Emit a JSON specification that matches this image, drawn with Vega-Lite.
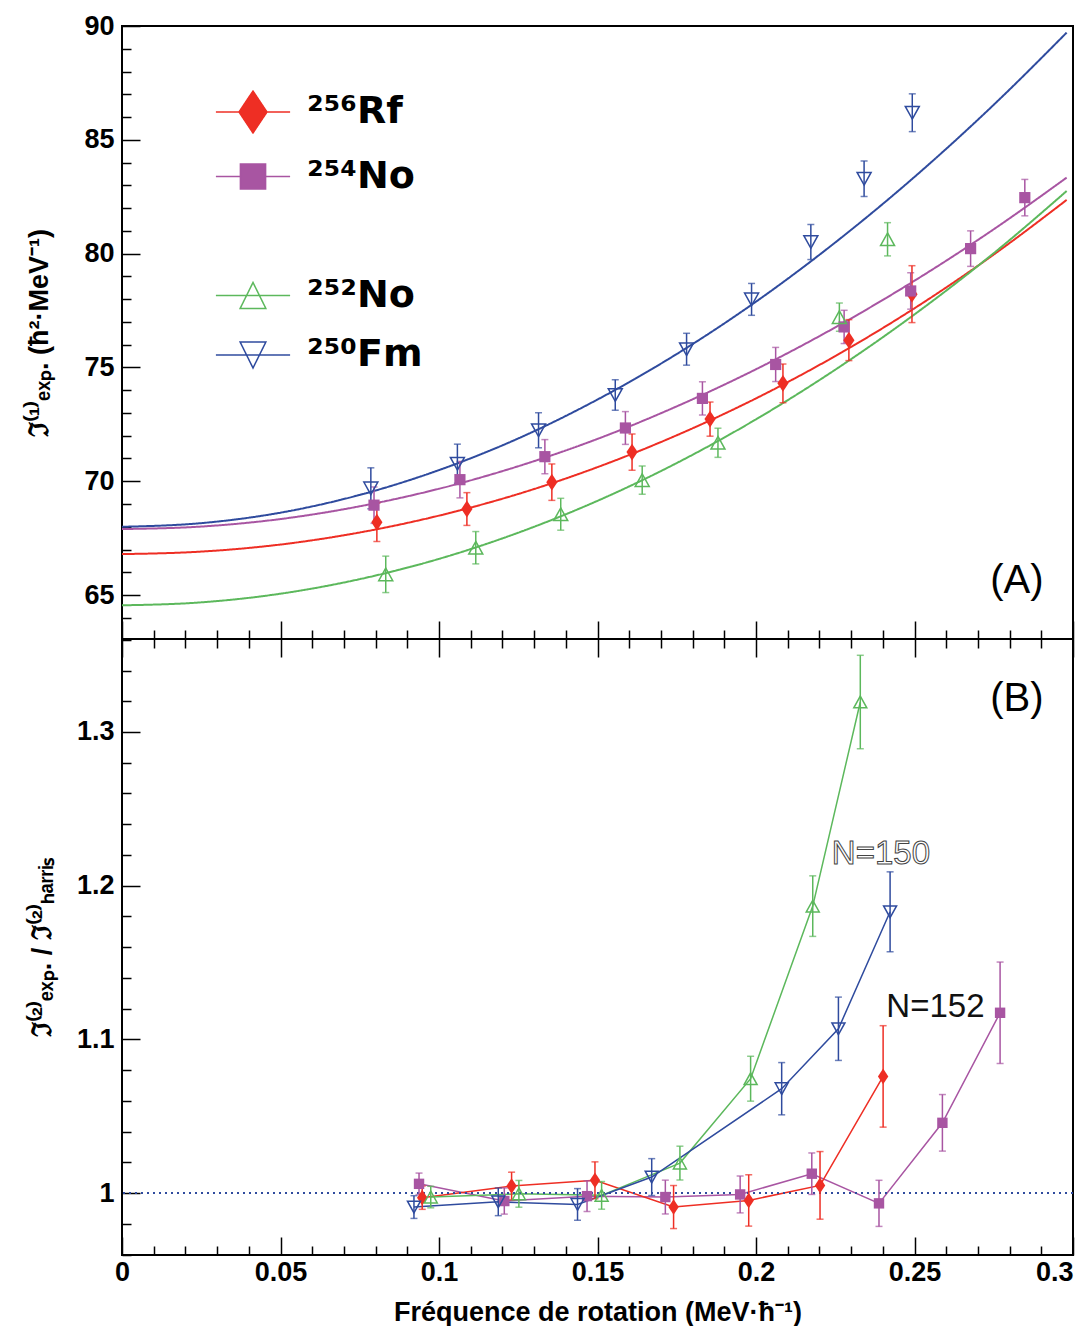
{
  "$schema": "https://vega.github.io/schema/vega-lite/v6.json",
  "background": "white",
  "padding": {"left": 24, "top": 11, "right": 10, "bottom": 0},
  "spacing": 0,
  "bounds": "flush",
  "config": {
    "font": "Liberation Sans",
    "view": {"stroke": "black", "strokeWidth": 2},
    "axis": {"grid": false, "domain": false, "tickColor": "black", "tickWidth": 1.5, "tickCount": 100, "labelFont": "Liberation Sans", "labelFontWeight": "bold", "labelFontSize": 27, "labelColor": "black", "labelOverlap": false, "labelBound": false, "labelFlush": false, "titleFont": "Liberation Sans", "titleFontWeight": "bold", "titleColor": "black"}
  },
  "resolve": {"scale": {"color": "independent", "shape": "independent", "strokeDash": "independent"}, "legend": {"shape": "independent", "color": "independent", "strokeDash": "independent"}},
  "datasets": {
    "curves": [
      {"nuc": "Rf256", "x": 0, "y": 66.80}, {"nuc": "Rf256", "x": 0.025, "y": 66.91}, {"nuc": "Rf256", "x": 0.05, "y": 67.22}, {"nuc": "Rf256", "x": 0.075, "y": 67.75}, {"nuc": "Rf256", "x": 0.1, "y": 68.49}, {"nuc": "Rf256", "x": 0.125, "y": 69.44}, {"nuc": "Rf256", "x": 0.15, "y": 70.62}, {"nuc": "Rf256", "x": 0.175, "y": 72.02}, {"nuc": "Rf256", "x": 0.2, "y": 73.64}, {"nuc": "Rf256", "x": 0.225, "y": 75.50}, {"nuc": "Rf256", "x": 0.25, "y": 77.60}, {"nuc": "Rf256", "x": 0.275, "y": 79.96}, {"nuc": "Rf256", "x": 0.298, "y": 82.36},
      {"nuc": "No254", "x": 0, "y": 67.90}, {"nuc": "No254", "x": 0.025, "y": 68.01}, {"nuc": "No254", "x": 0.05, "y": 68.34}, {"nuc": "No254", "x": 0.075, "y": 68.90}, {"nuc": "No254", "x": 0.1, "y": 69.67}, {"nuc": "No254", "x": 0.125, "y": 70.66}, {"nuc": "No254", "x": 0.15, "y": 71.86}, {"nuc": "No254", "x": 0.175, "y": 73.29}, {"nuc": "No254", "x": 0.2, "y": 74.92}, {"nuc": "No254", "x": 0.225, "y": 76.76}, {"nuc": "No254", "x": 0.25, "y": 78.81}, {"nuc": "No254", "x": 0.275, "y": 81.07}, {"nuc": "No254", "x": 0.298, "y": 83.34},
      {"nuc": "No252", "x": 0, "y": 64.55}, {"nuc": "No252", "x": 0.025, "y": 64.68}, {"nuc": "No252", "x": 0.05, "y": 65.06}, {"nuc": "No252", "x": 0.075, "y": 65.70}, {"nuc": "No252", "x": 0.1, "y": 66.59}, {"nuc": "No252", "x": 0.125, "y": 67.74}, {"nuc": "No252", "x": 0.15, "y": 69.14}, {"nuc": "No252", "x": 0.175, "y": 70.80}, {"nuc": "No252", "x": 0.2, "y": 72.72}, {"nuc": "No252", "x": 0.225, "y": 74.90}, {"nuc": "No252", "x": 0.25, "y": 77.33}, {"nuc": "No252", "x": 0.275, "y": 80.02}, {"nuc": "No252", "x": 0.298, "y": 82.75},
      {"nuc": "Fm250", "x": 0, "y": 68.00}, {"nuc": "Fm250", "x": 0.025, "y": 68.16}, {"nuc": "Fm250", "x": 0.05, "y": 68.62}, {"nuc": "Fm250", "x": 0.075, "y": 69.40}, {"nuc": "Fm250", "x": 0.1, "y": 70.49}, {"nuc": "Fm250", "x": 0.125, "y": 71.88}, {"nuc": "Fm250", "x": 0.15, "y": 73.59}, {"nuc": "Fm250", "x": 0.175, "y": 75.59}, {"nuc": "Fm250", "x": 0.2, "y": 77.89}, {"nuc": "Fm250", "x": 0.225, "y": 80.49}, {"nuc": "Fm250", "x": 0.25, "y": 83.37}, {"nuc": "Fm250", "x": 0.275, "y": 86.54}, {"nuc": "Fm250", "x": 0.298, "y": 89.71}
    ],
    "top": [
      {"nuc": "Rf256", "x": 0.0804, "y": 68.20, "err": 0.85}, {"nuc": "Rf256", "x": 0.1088, "y": 68.78, "err": 0.72}, {"nuc": "Rf256", "x": 0.1356, "y": 69.96, "err": 0.80}, {"nuc": "Rf256", "x": 0.1609, "y": 71.28, "err": 0.80}, {"nuc": "Rf256", "x": 0.1855, "y": 72.73, "err": 0.75}, {"nuc": "Rf256", "x": 0.2085, "y": 74.30, "err": 0.85}, {"nuc": "Rf256", "x": 0.2293, "y": 76.20, "err": 0.90}, {"nuc": "Rf256", "x": 0.2492, "y": 78.22, "err": 1.25},
      {"nuc": "No254", "x": 0.0795, "y": 68.95, "err": 0.80}, {"nuc": "No254", "x": 0.1066, "y": 70.07, "err": 0.80}, {"nuc": "No254", "x": 0.1334, "y": 71.08, "err": 0.75}, {"nuc": "No254", "x": 0.1588, "y": 72.34, "err": 0.72}, {"nuc": "No254", "x": 0.1831, "y": 73.64, "err": 0.73}, {"nuc": "No254", "x": 0.2062, "y": 75.13, "err": 0.75}, {"nuc": "No254", "x": 0.2278, "y": 76.78, "err": 0.73}, {"nuc": "No254", "x": 0.2488, "y": 78.36, "err": 0.80}, {"nuc": "No254", "x": 0.2677, "y": 80.22, "err": 0.78}, {"nuc": "No254", "x": 0.2848, "y": 82.46, "err": 0.80},
      {"nuc": "No252", "x": 0.0832, "y": 65.91, "err": 0.80}, {"nuc": "No252", "x": 0.1116, "y": 67.08, "err": 0.71}, {"nuc": "No252", "x": 0.1384, "y": 68.55, "err": 0.70}, {"nuc": "No252", "x": 0.1641, "y": 70.05, "err": 0.62}, {"nuc": "No252", "x": 0.1880, "y": 71.69, "err": 0.64}, {"nuc": "No252", "x": 0.2263, "y": 77.21, "err": 0.62}, {"nuc": "No252", "x": 0.2415, "y": 80.63, "err": 0.73},
      {"nuc": "Fm250", "x": 0.0785, "y": 69.69, "err": 0.90}, {"nuc": "Fm250", "x": 0.1058, "y": 70.77, "err": 0.86}, {"nuc": "Fm250", "x": 0.1314, "y": 72.24, "err": 0.77}, {"nuc": "Fm250", "x": 0.1556, "y": 73.79, "err": 0.67}, {"nuc": "Fm250", "x": 0.1781, "y": 75.80, "err": 0.70}, {"nuc": "Fm250", "x": 0.1986, "y": 77.99, "err": 0.70}, {"nuc": "Fm250", "x": 0.2173, "y": 80.51, "err": 0.77}, {"nuc": "Fm250", "x": 0.2341, "y": 83.29, "err": 0.78}, {"nuc": "Fm250", "x": 0.2493, "y": 86.19, "err": 0.83}
    ],
    "bot": [
      {"nuc": "No254", "x": 0.0937, "y": 1.0060, "err": 0.0070}, {"nuc": "No254", "x": 0.1206, "y": 0.9948, "err": 0.0085}, {"nuc": "No254", "x": 0.1467, "y": 0.9980, "err": 0.0100}, {"nuc": "No254", "x": 0.1714, "y": 0.9974, "err": 0.0110}, {"nuc": "No254", "x": 0.1950, "y": 0.9991, "err": 0.0120}, {"nuc": "No254", "x": 0.2176, "y": 1.0126, "err": 0.0135}, {"nuc": "No254", "x": 0.2388, "y": 0.9933, "err": 0.0150}, {"nuc": "No254", "x": 0.2588, "y": 1.0457, "err": 0.0184}, {"nuc": "No254", "x": 0.2770, "y": 1.1173, "err": 0.0330},
      {"nuc": "Rf256", "x": 0.0947, "y": 0.9970, "err": 0.0076}, {"nuc": "Rf256", "x": 0.1229, "y": 1.0046, "err": 0.0090}, {"nuc": "Rf256", "x": 0.1492, "y": 1.0083, "err": 0.0120}, {"nuc": "Rf256", "x": 0.1740, "y": 0.9909, "err": 0.0140}, {"nuc": "Rf256", "x": 0.1977, "y": 0.9952, "err": 0.0167}, {"nuc": "Rf256", "x": 0.2202, "y": 1.0050, "err": 0.0220}, {"nuc": "Rf256", "x": 0.2401, "y": 1.0759, "err": 0.0330},
      {"nuc": "No252", "x": 0.0974, "y": 0.9974, "err": 0.0070}, {"nuc": "No252", "x": 0.1252, "y": 0.9995, "err": 0.0087}, {"nuc": "No252", "x": 0.1513, "y": 0.9985, "err": 0.0090}, {"nuc": "No252", "x": 0.1760, "y": 1.0195, "err": 0.0110}, {"nuc": "No252", "x": 0.1983, "y": 1.0744, "err": 0.0146}, {"nuc": "No252", "x": 0.2179, "y": 1.1867, "err": 0.0197}, {"nuc": "No252", "x": 0.2329, "y": 1.3195, "err": 0.0304},
      {"nuc": "Fm250", "x": 0.0921, "y": 0.9909, "err": 0.0074}, {"nuc": "Fm250", "x": 0.1187, "y": 0.9943, "err": 0.0090}, {"nuc": "Fm250", "x": 0.1437, "y": 0.9926, "err": 0.0103}, {"nuc": "Fm250", "x": 0.1671, "y": 1.0104, "err": 0.0120}, {"nuc": "Fm250", "x": 0.2081, "y": 1.0679, "err": 0.0170}, {"nuc": "Fm250", "x": 0.2260, "y": 1.1069, "err": 0.0206}, {"nuc": "Fm250", "x": 0.2423, "y": 1.1830, "err": 0.0260}
    ]
  },
  "vconcat": [
    {
      "width": 951,
      "height": 613,
      "layer": [
        {
          "data": {"name": "curves"},
          "mark": {"type": "line", "interpolate": "monotone", "strokeWidth": 2},
          "encoding": {
            "x": {"field": "x", "type": "quantitative", "scale": {"domain": [0, 0.3], "nice": false, "zero": false},
              "axis": {"orient": "bottom", "tickCount": 100, "values": [0,0.01,0.02,0.03,0.04,0.05,0.06,0.07,0.08,0.09,0.1,0.11,0.12,0.13,0.14,0.15,0.16,0.17,0.18,0.19,0.2,0.21,0.22,0.23,0.24,0.25,0.26,0.27,0.28,0.29,0.3],
                "tickSize": {"condition": {"test": "abs(datum.value*20-round(datum.value*20))<0.001", "value": -18}, "value": -9},
                "labels": false, "title": null}},
            "y": {"field": "y", "type": "quantitative", "title": "ℑ⁽¹⁾ₑₓₚ. (ħ²·MeV⁻¹)", "scale": {"domain": [63.07, 90], "nice": false, "zero": false},
              "axis": {"orient": "left", "tickCount": 100, "values": [64,65,66,67,68,69,70,71,72,73,74,75,76,77,78,79,80,81,82,83,84,85,86,87,88,89,90],
                "tickSize": {"condition": {"test": "datum.value % 5 === 0", "value": -18}, "value": -9},
                "labelExpr": "datum.value % 5 === 0 ? toString(datum.value) : ''",
                "labelOverlap": false,
                "labelPadding": 26,
                "titleFontSize": 27, "titlePadding": 30}},
            "color": {"field": "nuc", "type": "nominal", "scale": {"domain": ["Fm250", "No252", "gap", "No254", "Rf256"], "range": ["#2f4b9e", "#5cb85c", "#ffffff", "#a855a2", "#ee2e24"]}, "legend": null},
            "strokeDash": {"field": "nuc", "type": "nominal",
              "scale": {"domain": ["Rf256", "No254", "gap", "No252", "Fm250"], "range": [[1, 0], [1, 0], [1, 0], [1, 0], [1, 0]]},
              "legend": {
                "orient": "none", "legendX": 112, "legendY": 67, "title": null, "padding": 0,
                "symbolSize": 784, "symbolStrokeWidth": 1.5,
                "labelFont": "DejaVu Sans", "labelFontSize": 38, "labelFontWeight": "bold", "labelColor": "black",
                "labelOffset": 35, "rowPadding": 21.5, "labelLimit": 400,
                "labelExpr": "datum.value==='Rf256'?'²⁵⁶Rf':datum.value==='No254'?'²⁵⁴No':datum.value==='No252'?'²⁵²No':datum.value==='Fm250'?'²⁵⁰Fm':''",
                "encode": {"symbols": {"update": {
                  "shape": {"signal": "datum.value==='Rf256'?'M-2.65,0H-0.95M0.95,0H2.65M0,-1.5L1,0L0,1.5L-1,0Z':datum.value==='No254'?'M-2.65,0H-0.9M0.9,0H2.65M-0.9,-0.9H0.9V0.9H-0.9Z':datum.value==='No252'?'M-2.65,0H2.65M0,-0.93L0.92,0.93H-0.92Z':datum.value==='Fm250'?'M-2.65,0H2.65M0,0.93L0.92,-0.93H-0.92Z':'M0,0'"},
                  "fill": {"signal": "datum.value==='Rf256'?'#ee2e24':datum.value==='No254'?'#a855a2':'transparent'"},
                  "stroke": {"signal": "datum.value==='Rf256'?'#ee2e24':datum.value==='No254'?'#a855a2':datum.value==='No252'?'#5cb85c':datum.value==='Fm250'?'#2f4b9e':'transparent'"},
                  "strokeWidth": {"value": 1.5},
                  "opacity": {"value": 1}
                }}}
              }}
          }
        },
        {
          "data": {"name": "top"},
          "mark": {"type": "errorbar", "ticks": true, "size": 7, "thickness": 1.5},
          "encoding": {
            "x": {"field": "x", "type": "quantitative", "title": null},
            "y": {"field": "y", "type": "quantitative", "title": "ℑ⁽¹⁾ₑₓₚ. (ħ²·MeV⁻¹)"},
            "yError": {"field": "err"},
            "color": {"field": "nuc", "type": "nominal", "legend": null}
          }
        },
        {
          "data": {"name": "top"},
          "transform": [{"filter": {"field": "nuc", "oneOf": ["Rf256", "No254"]}}],
          "mark": {"type": "point", "filled": true, "opacity": 1, "size": 196},
          "encoding": {
            "x": {"field": "x", "type": "quantitative", "title": null},
            "y": {"field": "y", "type": "quantitative", "title": "ℑ⁽¹⁾ₑₓₚ. (ħ²·MeV⁻¹)"},
            "color": {"field": "nuc", "type": "nominal", "legend": null},
            "shape": {"field": "nuc", "type": "nominal",
              "scale": {"domain": ["No254", "Rf256", "gap", "Fm250", "No252"], "range": ["M-0.8,-0.8H0.8V0.8H-0.8Z", "M0,-1.2L0.8,0L0,1.2L-0.8,0Z", "M0,0", "M0,0.9L1,-0.9H-1Z", "M0,-0.9L1,0.9H-1Z"]},
              "legend": null}
          }
        },
        {
          "data": {"name": "top"},
          "transform": [{"filter": {"field": "nuc", "oneOf": ["No252", "Fm250"]}}],
          "mark": {"type": "point", "filled": false, "opacity": 1, "size": 196, "strokeWidth": 1.5},
          "encoding": {
            "x": {"field": "x", "type": "quantitative", "title": null},
            "y": {"field": "y", "type": "quantitative", "title": "ℑ⁽¹⁾ₑₓₚ. (ħ²·MeV⁻¹)"},
            "color": {"field": "nuc", "type": "nominal", "legend": null},
            "shape": {"field": "nuc", "type": "nominal", "legend": null}
          }
        },
        {
          "data": {"values": [{}]},
          "mark": {"type": "text", "font": "Liberation Sans", "fontSize": 40, "align": "center", "baseline": "middle", "color": "black"},
          "encoding": {
            "x": {"datum": 0.2823, "type": "quantitative"},
            "y": {"datum": 65.6, "type": "quantitative"},
            "text": {"value": "(A)"}
          }
        }
      ]
    },
    {
      "width": 951,
      "height": 616,
      "resolve": {"axis": {"x": "independent"}},
      "layer": [
        {
          "data": {"name": "bot"},
          "mark": {"type": "line", "strokeWidth": 1.5},
          "encoding": {
            "x": {"field": "x", "type": "quantitative", "scale": {"domain": [0, 0.3], "nice": false, "zero": false},
              "axis": {"orient": "bottom", "tickCount": 100, "values": [0,0.01,0.02,0.03,0.04,0.05,0.06,0.07,0.08,0.09,0.1,0.11,0.12,0.13,0.14,0.15,0.16,0.17,0.18,0.19,0.2,0.21,0.22,0.23,0.24,0.25,0.26,0.27,0.28,0.29,0.3],
                "tickSize": {"condition": {"test": "abs(datum.value*20-round(datum.value*20))<0.001", "value": -18}, "value": -9},
                "labelExpr": "abs(datum.value*20-round(datum.value*20))<0.001 ? toString(datum.value) : ''",
                "labelAlign": {"condition": {"test": "datum.value > 0.29", "value": "right"}, "value": "center"},
                "labelPadding": 22,
                "title": "Fréquence de rotation (MeV·ħ⁻¹)", "titleFontSize": 27, "titlePadding": 5}},
            "y": {"field": "y", "type": "quantitative", "title": "ℑ⁽²⁾ₑₓₚ. / ℑ⁽²⁾ₕₐᵣᵣᵢₛ", "scale": {"domain": [0.9597, 1.3605], "nice": false, "zero": false},
              "axis": {"orient": "left", "tickCount": 100, "values": [0.96,0.98,1,1.02,1.04,1.06,1.08,1.1,1.12,1.14,1.16,1.18,1.2,1.22,1.24,1.26,1.28,1.3,1.32,1.34,1.36],
                "tickSize": {"condition": {"test": "abs(datum.value*10-round(datum.value*10))<0.001", "value": -18}, "value": -9},
                "labelExpr": "abs(datum.value*10-round(datum.value*10))<0.001 ? toString(datum.value) : ''",
                "labelOverlap": false,
                "labelPadding": 26,
                "titleFontSize": 27, "titlePadding": 20}},
            "color": {"field": "nuc", "type": "nominal", "scale": {"domain": ["Fm250", "No252", "gap", "No254", "Rf256"], "range": ["#2f4b9e", "#5cb85c", "#ffffff", "#a855a2", "#ee2e24"]}, "legend": null}
          }
        },
        {
          "data": {"values": [{}]},
          "mark": {"type": "rule", "color": "#2f4b9e", "strokeDash": [2, 4], "strokeWidth": 2},
          "encoding": {"y": {"datum": 1, "type": "quantitative"}}
        },
        {
          "data": {"name": "bot"},
          "mark": {"type": "errorbar", "ticks": true, "size": 7, "thickness": 1.5},
          "encoding": {
            "x": {"field": "x", "type": "quantitative",
              "axis": {"orient": "top", "tickCount": 100, "values": [0,0.01,0.02,0.03,0.04,0.05,0.06,0.07,0.08,0.09,0.1,0.11,0.12,0.13,0.14,0.15,0.16,0.17,0.18,0.19,0.2,0.21,0.22,0.23,0.24,0.25,0.26,0.27,0.28,0.29,0.3],
                "tickSize": {"condition": {"test": "abs(datum.value*20-round(datum.value*20))<0.001", "value": -18}, "value": -9},
                "labels": false, "title": null}},
            "y": {"field": "y", "type": "quantitative", "title": "ℑ⁽²⁾ₑₓₚ. / ℑ⁽²⁾ₕₐᵣᵣᵢₛ"},
            "yError": {"field": "err"},
            "color": {"field": "nuc", "type": "nominal", "legend": null}
          }
        },
        {
          "data": {"name": "bot"},
          "transform": [{"filter": {"field": "nuc", "oneOf": ["Rf256", "No254"]}}],
          "mark": {"type": "point", "filled": true, "opacity": 1, "size": 169},
          "encoding": {
            "x": {"field": "x", "type": "quantitative", "axis": null},
            "y": {"field": "y", "type": "quantitative", "title": "ℑ⁽²⁾ₑₓₚ. / ℑ⁽²⁾ₕₐᵣᵣᵢₛ"},
            "color": {"field": "nuc", "type": "nominal", "legend": null},
            "shape": {"field": "nuc", "type": "nominal",
              "scale": {"domain": ["No254", "Rf256", "gap", "Fm250", "No252"], "range": ["M-0.8,-0.8H0.8V0.8H-0.8Z", "M0,-1.2L0.8,0L0,1.2L-0.8,0Z", "M0,0", "M0,0.9L1,-0.9H-1Z", "M0,-0.9L1,0.9H-1Z"]},
              "legend": null}
          }
        },
        {
          "data": {"name": "bot"},
          "transform": [{"filter": {"field": "nuc", "oneOf": ["No252", "Fm250"]}}],
          "mark": {"type": "point", "filled": false, "opacity": 1, "size": 169, "strokeWidth": 1.5},
          "encoding": {
            "x": {"field": "x", "type": "quantitative", "axis": null},
            "y": {"field": "y", "type": "quantitative", "title": "ℑ⁽²⁾ₑₓₚ. / ℑ⁽²⁾ₕₐᵣᵣᵢₛ"},
            "color": {"field": "nuc", "type": "nominal", "legend": null},
            "shape": {"field": "nuc", "type": "nominal", "legend": null}
          }
        },
        {
          "data": {"values": [{}]},
          "mark": {"type": "text", "font": "Liberation Sans", "fontSize": 40, "align": "center", "baseline": "middle", "color": "black"},
          "encoding": {
            "x": {"datum": 0.2823, "type": "quantitative", "axis": null},
            "y": {"datum": 1.3214, "type": "quantitative"},
            "text": {"value": "(B)"}
          }
        },
        {
          "data": {"values": [{}]},
          "mark": {"type": "text", "font": "Liberation Sans", "fontSize": 33, "align": "center", "baseline": "middle", "fill": "white", "stroke": "#444444", "strokeWidth": 1},
          "encoding": {
            "x": {"datum": 0.2394, "type": "quantitative", "axis": null},
            "y": {"datum": 1.2206, "type": "quantitative"},
            "text": {"value": "N=150"}
          }
        },
        {
          "data": {"values": [{}]},
          "mark": {"type": "text", "font": "Liberation Sans", "fontSize": 33, "align": "center", "baseline": "middle", "color": "#111111"},
          "encoding": {
            "x": {"datum": 0.2566, "type": "quantitative", "axis": null},
            "y": {"datum": 1.121, "type": "quantitative"},
            "text": {"value": "N=152"}
          }
        }
      ]
    }
  ]
}
